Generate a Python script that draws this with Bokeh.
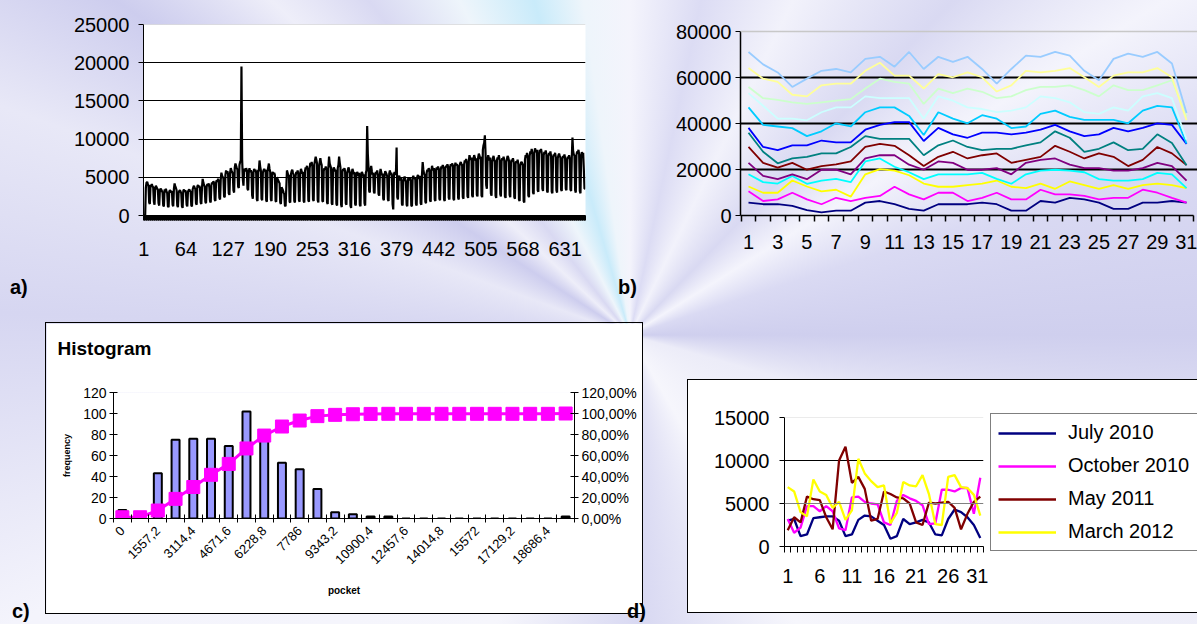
import math
from bokeh.plotting import figure
from bokeh.models import (FixedTicker, Span, LinearAxis, Range1d, Legend, LegendItem, Div, Spacer, Title)
from bokeh.layouts import row, column
from bokeh.embed import file_html
from bokeh.resources import INLINE

FONT = "Liberation Sans"

# ---------------- chart a) daily values ----------------
A_VALUES = [
    0, 0, 0,
    3600, 4300, 4400, 4100, 3900, 1700, 1500,
    4000, 3900, 4100, 3800, 3700, 1800, 1400,
    3600, 3900, 3700, 3500, 3400, 1600, 1300,
    3300, 3500, 3400, 3200, 3000, 1300, 1200,
    3400, 3200, 3500, 3100, 2900, 1200, 1100,
    3100, 3300, 3200, 3000, 3200, 1400, 1200,
    3500, 4200, 3800, 3600, 3300, 1300, 1100,
    3000, 3200, 3300, 3100, 2900, 1200, 1000,
    3200, 3400, 3100, 3300, 3000, 1400, 1200,
    3100, 3300, 3400, 3200, 3100, 1300, 1200,
    3400, 3700, 3900, 3600, 3500, 1600, 1400,
    3800, 4000, 3700, 3900, 3600, 1700, 1500,
    3700, 4800, 4300, 4000, 3800, 1800, 1600,
    3800, 4100, 3900, 4200, 3700, 1900, 1700,
    4000, 4300, 4100, 4500, 4200, 2100, 1900,
    4300, 4600, 4400, 4800, 4500, 2300, 2100,
    4700, 5600, 5200, 5000, 4900, 2500, 2400,
    5300, 5900, 5500, 5800, 5400, 2900, 2700,
    5600, 6200, 5900, 5700, 5500, 3300, 3000,
    6300, 6800, 6500, 6200, 6000, 3800, 3600,
    6600, 7000, 7200, 19500, 7400, 4800, 3900,
    6100, 6000, 5800, 6200, 5900, 3500, 3300,
    5800, 6200, 5700, 5900, 5600, 2600, 2200,
    5700, 6100, 5800, 6000, 5600, 2100, 1900,
    6000, 5800, 7200, 6400, 5900, 2200, 2000,
    5600, 5900, 6100, 5800, 6000, 2000, 1800,
    5800, 6300, 6800, 6100, 5700, 2100, 1900,
    5500, 5700, 5400, 5600, 5300, 1900, 1800,
    5000, 4800, 4600, 4400, 4200, 1700, 1500,
    3700, 3500, 3300, 3000, 2800, 1300, 1200,
    3500, 5900, 5600, 5200, 5300, 1800, 1700,
    5400, 5800, 6000, 5600, 5300, 1900, 1700,
    5200, 5700, 5500, 5900, 5400, 2000, 1800,
    5600, 6100, 5800, 5500, 5700, 1900, 1700,
    5800, 6300, 6100, 6500, 6000, 2000, 1800,
    6200, 6900, 6600, 7000, 6400, 2100, 1900,
    6700, 7200, 7700, 7300, 6800, 2000, 1700,
    6400, 7000, 7500, 6900, 6600, 1900, 1800,
    5800, 6200, 6000, 6400, 6100, 1700, 1500,
    6300, 7700, 6800, 6500, 6200, 1600, 1400,
    5900, 6300, 6100, 5800, 6000, 1500, 1300,
    6200, 6600, 7700, 6900, 6300, 1400, 1100,
    5700, 6100, 5900, 6200, 5800, 1600, 1400,
    5500, 5900, 6300, 6000, 5600, 1300, 1000,
    5600, 6100, 5800, 5400, 5700, 1500, 1300,
    5400, 5700, 5500, 5200, 5600, 1400, 1200,
    5300, 5700, 5500, 5100, 5400, 1600, 1300,
    5600, 5900, 11700, 8000, 6300, 3200, 3000,
    6000, 6500, 5800, 5400, 5600, 3100, 2900,
    5300, 5700, 5500, 5900, 5200, 2800, 2600,
    5400, 6100, 5700, 5300, 5500, 2200, 2000,
    5200, 5800, 5600, 5400, 5100, 2100, 1900,
    5500, 5900, 5300, 5600, 5200, 1500, 800,
    5400, 5700, 5300, 5600, 8900, 2400, 2100,
    5000, 5200, 4800, 4600, 4900, 1500, 1300,
    4500, 4800, 5100, 4700, 4400, 1400, 1200,
    4700, 5000, 4600, 4900, 4500, 1300, 1200,
    4900, 5200, 4800, 5000, 4700, 1500, 1300,
    5100, 5300, 5000, 4800, 5200, 1600, 1400,
    5400, 7000, 6000, 5500, 5300, 1800, 1600,
    5600, 6000, 5800, 6200, 5900, 2000, 1800,
    5800, 6500, 6100, 5900, 6200, 2100, 1900,
    5900, 6300, 6000, 6400, 6100, 2200, 2000,
    6000, 6400, 6200, 6600, 6300, 2100, 1900,
    6200, 6500, 6300, 6700, 6400, 2300, 2100,
    6300, 6700, 6500, 6800, 6600, 2200, 2000,
    6400, 6900, 6600, 6700, 6500, 2300, 2100,
    6500, 6800, 7000, 6700, 6600, 2400, 2200,
    6700, 7200, 7000, 7400, 6900, 2500, 2300,
    7100, 7900, 7500, 7300, 7600, 2600, 2400,
    7400, 7900, 7600, 7200, 7500, 2700, 2500,
    7600, 8100, 7800, 7400, 7700, 2600, 2400,
    8600, 9200, 9500, 10500, 8200, 4000, 3500,
    7300, 7900, 7500, 7200, 7600, 2900, 2600,
    7000, 7500, 7800, 7300, 7100, 2600, 2300,
    7200, 7600, 7400, 7900, 7300, 2800, 2500,
    7100, 7500, 7300, 7700, 7200, 2500, 2300,
    7000, 7400, 7800, 7600, 7200, 2700, 2400,
    6900, 7300, 7100, 7500, 7000, 2400, 2200,
    6800, 7100, 6900, 7300, 6700, 2100, 1900,
    6500, 6900, 7000, 6800, 6600, 1900, 1700,
    7300, 7900, 7600, 8200, 7700, 2600, 2400,
    7800, 8400, 8100, 8700, 8200, 3000, 2800,
    8100, 8800, 8500, 8300, 8600, 3300, 3100,
    8000, 8600, 8300, 8700, 8200, 3500, 3200,
    7900, 8300, 8100, 8500, 8000, 3200, 3000,
    7700, 8200, 7900, 8400, 7800, 3100, 2900,
    7600, 8000, 7800, 8200, 7700, 3300, 3000,
    7500, 7900, 8100, 7800, 7600, 3400, 3200,
    7400, 7800, 7600, 8000, 7500, 3500, 3300,
    7300, 7700, 7500, 7900, 7400, 3400, 3200,
    7600, 10200, 8400, 8000, 7800, 3300, 3000,
    7900, 8400, 8100, 8600, 8000, 3200, 2900,
    7800, 8300, 8000, 8200, 6000, 3500, 3500,
]
A_DAYS = list(range(1, len(A_VALUES) + 1))
A_TICK_LABELS = [1, 64, 127, 190, 253, 316, 379, 442, 505, 568, 631]
A_Y_TICKS = [0, 5000, 10000, 15000, 20000, 25000]

# ---------------- chart b) 13 monthly series ----------------
B_DAYS = list(range(1, 32))
B_NAVY = [5600, 4900, 4900, 4200, 2300, 1400, 2100, 2100, 5600, 6300, 4900, 2900, 2100, 4900, 4900, 4900,
          5600, 4900, 2100, 2100, 6300, 5600, 7700, 7000, 5600, 2900, 2900, 5600, 5600, 6300, 5600]
B_MAGENTA = [10500, 6300, 7000, 9900, 7000, 4900, 7700, 6300, 7700, 8500, 12500, 9200, 7000, 9900, 9900, 6300,
             7700, 9900, 7000, 7000, 11200, 9200, 9200, 8500, 7000, 7700, 7700, 11200, 9900, 7700, 5600]
B_YELLOW = [12600, 9900, 9900, 15200, 12600, 10500, 11200, 8200, 17900, 20200, 19500, 17500, 13900, 12500, 12500,
            13200, 13900, 15200, 12500, 11900, 13900, 11600, 14800, 13200, 11600, 13200, 11600, 13200, 13900,
            13200, 11900]
B_CYAN = [17900, 14500, 13900, 17200, 13800, 15200, 15900, 14500, 23500, 24800, 21200, 18800, 15800, 17900, 17900,
          17900, 18500, 15900, 13800, 17900, 19500, 19900, 19500, 18800, 15800, 15200, 15200, 15800, 18500,
          17900, 11900]
B_PURPLE = [22900, 17200, 15800, 17900, 15800, 19900, 19900, 17900, 24800, 26200, 26200, 22100, 19900, 23500,
            22900, 19900, 19900, 20600, 17900, 22900, 24200, 24800, 22100, 20600, 20600, 19500, 19500, 20600,
            22900, 21500, 15200]
B_DARKRED = [29800, 22900, 20800, 22900, 19900, 21500, 22200, 23500, 29800, 31100, 30300, 26200, 21500, 25500,
             27700, 24800, 26200, 27000, 22900, 24200, 25500, 30300, 27700, 24800, 27000, 25500, 21500, 24200,
             29800, 27000, 21900]
B_TEAL = [36000, 27700, 22700, 24800, 25500, 27000, 27000, 29800, 34500, 33300, 33300, 33300, 26200, 30500, 32600,
          29800, 28400, 29000, 29000, 30500, 31800, 36600, 33800, 27700, 29000, 31800, 28400, 29000, 35300,
          31500, 21900]
B_BLUE = [38100, 29800, 28400, 30500, 30500, 32600, 31800, 31800, 37300, 39400, 40600, 40600, 32400, 38100, 35300,
          33800, 36000, 36000, 35300, 36000, 37300, 39400, 36600, 34500, 35300, 38100, 36600, 38100, 40100,
          39400, 31100]
B_SKYBLUE = [47000, 39400, 38700, 38000, 34500, 36600, 40100, 38700, 44900, 47000, 47000, 43300, 35000, 44900,
             42100, 40100, 43600, 42100, 38000, 38700, 44200, 45600, 42900, 41600, 41600, 41600, 40100, 45600,
             47700, 47000, 31300]
B_LIGHTCYAN = [53200, 47700, 42100, 42100, 41400, 44900, 47000, 47000, 51800, 51000, 51000, 51000, 42100, 51800,
               49900, 47000, 46300, 44900, 45600, 47000, 51800, 51000, 49200, 44900, 44200, 47000, 45600, 51800,
               53200, 51000, 33000]
B_LIGHTGREEN = [55900, 51000, 50300, 49200, 48500, 49200, 49900, 50600, 55200, 59500, 58100, 57300, 48500, 55200,
                53200, 55200, 53800, 51000, 51800, 54500, 55900, 55900, 56600, 54500, 51800, 56600, 54500, 54500,
                56600, 58800, 43000]
B_LIGHTYELLOW = [64100, 59500, 58100, 52500, 51800, 56600, 57300, 57300, 62900, 66400, 60800, 60800, 55200, 61500,
                 60100, 62200, 60100, 53900, 56600, 62900, 62200, 62900, 64100, 60100, 55900, 60800, 62200, 62200,
                 64100, 60100, 41400]
B_LIGHTBLUE = [71100, 65700, 62200, 55900, 59500, 62900, 63700, 62200, 68100, 69000, 64700, 71100, 63700, 69000,
               66800, 69000, 63700, 57300, 63700, 69500, 69000, 71100, 69500, 62900, 58800, 68100, 70400, 69000,
               71100, 66100, 44600]
B_SERIES = [B_NAVY, B_MAGENTA, B_YELLOW, B_CYAN, B_PURPLE, B_DARKRED, B_TEAL, B_BLUE, B_SKYBLUE,
            B_LIGHTCYAN, B_LIGHTGREEN, B_LIGHTYELLOW, B_LIGHTBLUE]
B_COLORS = ["#000080", "#FF00FF", "#FFFF00", "#00FFFF", "#800080", "#800000", "#008080", "#0000FF",
            "#00CCFF", "#CCFFFF", "#CCFFCC", "#FFFF99", "#99CCFF"]
B_TICK_LABELS = list(range(1, 32, 2))
B_Y_TICKS = [0, 20000, 40000, 60000, 80000]

# ---------------- chart c) histogram ----------------
C_BINS = ["0", "778,6", "1557,2", "2335,8", "3114,4", "3893", "4671,6", "5450,2", "6228,8", "7007,4",
          "7786", "8564,6", "9343,2", "10121,8", "10900,4", "11679", "12457,6", "13236,2", "14014,8",
          "14793,4", "15572", "16350,6", "17129,2", "17907,8", "18686,4", "More"]
C_FREQ = [8, 0, 43, 75, 76, 76, 69, 102, 78, 53, 47, 28, 6, 4, 2, 2, 0, 0, 0, 0, 0, 0, 0, 0, 0, 2]
C_CUM_PCT = [1.2, 1.2, 7.6, 18.7, 30.0, 41.6, 52.0, 66.7, 79.0, 87.6, 93.3, 97.5, 98.7, 99.3, 99.6, 99.7,
             99.7, 99.7, 99.7, 99.7, 99.7, 99.7, 99.7, 99.7, 99.7, 100.0]
C_Y_TICKS = [0, 20, 40, 60, 80, 100, 120]
C_PCT_LABELS = ["0,00%", "20,00%", "40,00%", "60,00%", "80,00%", "100,00%", "120,00%"]

# ---------------- chart d) four months ----------------
D_DAYS = list(range(1, 32))
D_NAMES = ["July 2010", "October 2010", "May 2011", "March 2012"]
D_COLORS = ["#000080", "#FF00FF", "#800000", "#FFFF00"]
D_JUL10 = [3000, 3200, 1200, 1400, 3300, 3400, 3500, 3500, 3000, 1200, 1400, 3100, 3600, 3500, 3000, 2500,
           900, 1200, 3200, 2600, 2800, 3100, 2800, 1400, 1300, 3200, 4300, 4000, 3400, 2500, 1000]
D_OCT10 = [3200, 1600, 2200, 4700, 4700, 4100, 4700, 4100, 2100, 1900, 5700, 5800, 5200, 5000, 4900, 2800,
           2500, 5300, 6000, 5600, 5300, 4800, 2600, 2700, 6600, 6600, 6400, 6800, 6800, 3800, 8000]
D_MAY11 = [1900, 3400, 2800, 5800, 5500, 5400, 3400, 2000, 10000, 11600, 7400, 8100, 6700, 3000, 3200, 6400,
           6100, 5700, 5600, 5000, 2800, 2500, 5100, 5000, 5100, 5200, 4500, 2000, 3800, 5200, 5800]
D_MAR12 = [6900, 6400, 4000, 3500, 7800, 6400, 6000, 4500, 5200, 3100, 4200, 10200, 8500, 7600, 6900, 7100,
           2700, 3900, 7500, 7100, 7000, 8300, 6100, 2600, 2500, 8100, 8300, 6900, 6800, 6000, 3600]
D_SERIES = [D_JUL10, D_OCT10, D_MAY11, D_MAR12]
D_TICK_LABELS = [1, 6, 11, 16, 21, 26, 31]
D_Y_TICKS = [0, 5000, 10000, 15000]


def base_axes(p, size):
    for ax in (p.xaxis[0], p.yaxis[0]):
        ax.major_label_text_font = FONT
        ax.major_label_text_font_size = size
        ax.major_label_text_color = "black"
        ax.axis_line_color = "black"
        ax.major_tick_line_color = "black"
        ax.minor_tick_line_color = "black"
        ax.axis_label_text_font = FONT
        ax.axis_label_text_color = "black"


# layout geometry (pixels)
TOP_H = 270          # height of the two upper figures
FR_TOP = 24          # frame top of upper figures
FR_BOT = 215         # frame bottom of upper figures
TICK_FONT = "20px"

# ================= figure a =================
pa = figure(width=600, height=TOP_H, output_backend="svg", toolbar_location=None, title=None,
            x_range=Range1d(0.5, len(A_VALUES) + 0.5), y_range=Range1d(0, 25000),
            min_border_left=143, min_border_right=15, min_border_top=FR_TOP, min_border_bottom=TOP_H - FR_BOT)
pa.background_fill_color = "white"
pa.border_fill_color = None
pa.outline_line_color = None
pa.line(A_DAYS, A_VALUES, line_color="black", line_width=2.2)
pa.xgrid.visible = False
pa.ygrid.ticker = FixedTicker(ticks=A_Y_TICKS[1:-1])
pa.ygrid.grid_line_color = "black"
pa.ygrid.grid_line_width = 1
pa.add_layout(Span(location=A_Y_TICKS[-1], dimension="width", line_color="#c8c8c8", line_width=1))
base_axes(pa, TICK_FONT)
pa.yaxis.ticker = FixedTicker(ticks=A_Y_TICKS)
pa.yaxis.major_tick_out = 5
pa.yaxis.major_tick_in = 0
pa.yaxis.major_label_standoff = 9
pa.xaxis.ticker = FixedTicker(ticks=A_TICK_LABELS,
                              minor_ticks=[d - 0.5 for d in A_DAYS] + [len(A_DAYS) + 0.5])
pa.xaxis.major_tick_out = 0
pa.xaxis.major_tick_in = 0
pa.xaxis.minor_tick_out = 5
pa.xaxis.minor_tick_in = 0
pa.xaxis.major_label_standoff = 21

# ================= figure b =================
b_top_value = B_Y_TICKS[-1] * (FR_BOT - FR_TOP) / (FR_BOT - 31)
pb = figure(width=597, height=TOP_H, output_backend="svg", toolbar_location=None, title=None,
            x_range=Range1d(0.452, 31.75), y_range=Range1d(0, b_top_value),
            min_border_left=140, min_border_right=0, min_border_top=FR_TOP, min_border_bottom=TOP_H - FR_BOT)
pb.background_fill_color = None
pb.border_fill_color = None
pb.outline_line_color = None
for vals, col in zip(B_SERIES, B_COLORS):
    pb.line(B_DAYS, vals, line_color=col, line_width=1.8)
pb.xgrid.visible = False
pb.ygrid.ticker = FixedTicker(ticks=B_Y_TICKS[1:-1])
pb.ygrid.grid_line_color = "black"
pb.ygrid.grid_line_width = 2
pb.add_layout(Span(location=B_Y_TICKS[-1], dimension="width", line_color="#c8c8c8", line_width=1.5))
base_axes(pb, TICK_FONT)
pb.yaxis.ticker = FixedTicker(ticks=B_Y_TICKS)
pb.yaxis.bounds = (0, B_Y_TICKS[-1])
pb.yaxis.major_tick_out = 5
pb.yaxis.major_tick_in = 0
pb.yaxis.major_label_standoff = 4
pb.yaxis.axis_line_width = 1.5
pb.xaxis.axis_line_width = 1.5
pb.xaxis.bounds = (0.452, 31.5)
pb.xaxis.ticker = FixedTicker(ticks=B_TICK_LABELS, minor_ticks=[d - 0.5 for d in B_DAYS] + [31.5])
pb.xaxis.major_tick_out = 0
pb.xaxis.major_tick_in = 0
pb.xaxis.minor_tick_out = 6
pb.xaxis.minor_tick_in = 0
pb.xaxis.minor_tick_line_width = 1.5
pb.xaxis.major_label_standoff = 13

# ================= figure c =================
pc = figure(width=596, height=290, output_backend="svg", toolbar_location=None, title=None,
            x_range=Range1d(-0.5, len(C_BINS) - 0.5), y_range=Range1d(0, 120),
            min_border_left=67, min_border_right=68, min_border_top=69, min_border_bottom=95)
# blank title (nearest the frame) keeps the real title higher up, as in the original
pc.add_layout(Title(text=" ", text_font=FONT, text_font_size="19px", standoff=10), "above")
pc.add_layout(Title(text="Histogram", align="left", offset=-56, text_font=FONT, text_font_size="19px",
                    text_font_style="bold", text_color="black", standoff=2), "above")
pc.background_fill_color = "white"
pc.border_fill_color = "white"
pc.outline_line_color = None
pc.styles = {"outline": "1.5px solid #000"}
pc.extra_y_ranges = {"pct": Range1d(0, 120)}
cats = list(range(len(C_BINS)))
pc.vbar(x=cats, top=C_FREQ, width=0.45, fill_color="#9999FF", line_color="black", line_width=2)
pc.line(cats, C_CUM_PCT, y_range_name="pct", line_color="#FF00FF", line_width=3)
pc.scatter(cats, C_CUM_PCT, y_range_name="pct", marker="square", size=13,
           fill_color="#FF00FF", line_color="#FF00FF")
pc.xgrid.visible = False
pc.ygrid.visible = False
base_axes(pc, "14px")
pc.yaxis.ticker = FixedTicker(ticks=C_Y_TICKS)
pc.yaxis.major_tick_in = 4
pc.yaxis.major_tick_out = 4
pc.yaxis.major_label_standoff = 3
pc.yaxis.axis_label = "frequency"
pc.yaxis.axis_label_text_font_size = "9px"
pc.yaxis.axis_label_text_font_style = "bold"
pc.yaxis.axis_label_standoff = 8
right = LinearAxis(y_range_name="pct", ticker=FixedTicker(ticks=C_Y_TICKS),
                   major_label_overrides={t: s for t, s in zip(C_Y_TICKS, C_PCT_LABELS)})
right.major_label_text_font = FONT
right.major_label_text_font_size = "14px"
right.major_label_text_color = "black"
right.axis_line_color = "black"
right.major_tick_line_color = "black"
right.major_tick_in = 4
right.major_tick_out = 4
right.major_label_standoff = 3
pc.add_layout(right, "right")
pc.xaxis.ticker = FixedTicker(ticks=cats[0:-1:2], minor_ticks=[c - 0.5 for c in cats] + [cats[-1] + 0.5])
pc.xaxis.major_label_overrides = {c: C_BINS[c] for c in cats[0:-1:2]}
pc.xaxis.major_label_orientation = math.pi / 4
pc.xaxis.major_label_text_font_size = "13px"
pc.xaxis.major_tick_in = 0
pc.xaxis.major_tick_out = 0
pc.xaxis.minor_tick_in = 4
pc.xaxis.minor_tick_out = 4
pc.xaxis.major_label_standoff = 6
pc.xaxis.axis_label = "pocket"
pc.xaxis.axis_label_text_font_size = "10px"
pc.xaxis.axis_label_text_font_style = "bold"
pc.xaxis.axis_label_standoff = 14

# ================= figure d (chart part) =================
pd_ = figure(width=300, height=232, output_backend="svg", toolbar_location=None, title=None,
             x_range=Range1d(0.5, 31.5), y_range=Range1d(0, 15000),
             min_border_left=96, min_border_right=5, min_border_top=37, min_border_bottom=66)
pd_.background_fill_color = "white"
pd_.border_fill_color = "white"
pd_.outline_line_color = None
for vals, col in zip(D_SERIES, D_COLORS):
    pd_.line(D_DAYS, vals, line_color=col, line_width=2.3)
pd_.xgrid.visible = False
pd_.ygrid.ticker = FixedTicker(ticks=[D_Y_TICKS[2]])
pd_.ygrid.grid_line_color = "black"
pd_.ygrid.grid_line_width = 1
pd_.add_layout(Span(location=D_Y_TICKS[1], dimension="width", line_color="#808080", line_width=1.2))
pd_.add_layout(Span(location=D_Y_TICKS[3], dimension="width", line_color="#d8d8d8", line_width=1))
base_axes(pd_, TICK_FONT)
pd_.yaxis.ticker = FixedTicker(ticks=D_Y_TICKS)
pd_.yaxis.major_tick_out = 5
pd_.yaxis.major_tick_in = 0
pd_.yaxis.major_label_standoff = 10
pd_.xaxis.ticker = FixedTicker(ticks=D_TICK_LABELS, minor_ticks=[d - 0.5 for d in D_DAYS] + [31.5])
pd_.xaxis.major_tick_out = 0
pd_.xaxis.major_tick_in = 0
pd_.xaxis.minor_tick_out = 6
pd_.xaxis.minor_tick_in = 0
pd_.xaxis.major_label_standoff = 16

# ================= figure d (legend part) =================
pl = figure(width=209, height=150, output_backend="svg", toolbar_location=None, title=None,
            x_range=Range1d(100, 101), y_range=Range1d(0, 1),
            x_axis_location=None, y_axis_location=None, min_border=0,
            min_border_left=0, min_border_right=0, min_border_top=0, min_border_bottom=0)
pl.grid.visible = False
pl.outline_line_color = None
pl.background_fill_color = None
pl.border_fill_color = None
items = []
for name, vals, col in zip(D_NAMES, D_SERIES, D_COLORS):
    r = pl.line(D_DAYS, vals, line_color=col, line_width=2.3)   # lies outside the view: legend swatch only
    items.append(LegendItem(label=name, renderers=[r]))
legend = Legend(items=items, location="top_left", border_line_color="black", border_line_width=1.2,
                background_fill_color="white", background_fill_alpha=1.0,
                label_text_font=FONT, label_text_font_size="20px", label_text_color="black",
                glyph_width=58, glyph_height=20, label_height=20, label_width=135, spacing=10,
                padding=7, label_standoff=12, margin=2)
pl.add_layout(legend, "center")

d_box = row(pd_, column(Spacer(width=209, height=31), pl, Spacer(width=209, height=51)),
            styles={"outline": "1.5px solid #000", "background": "white"})

# ================= panel labels & layout =================
LAB = "font-family:'Liberation Sans';font-weight:bold;font-size:20px;color:black;position:relative;"
div_a = Div(text=f'<div style="{LAB}left:10px;top:3px;">a)</div>', width=600, height=30, margin=0)
div_b = Div(text=f'<div style="{LAB}left:18px;top:3px;">b)</div>', width=597, height=30, margin=0)
div_c = Div(text=f'<div style="{LAB}left:12px;top:297px;">c)</div>', width=46, height=324, margin=0)
div_d = Div(text=f'<div style="{LAB}left:-15px;top:297px;">d)</div>', width=46, height=324, margin=0)

top = row(column(pa, div_a), column(pb, div_b))
bottom = row(div_c,
             column(Spacer(width=596, height=23), pc, Spacer(width=596, height=11)),
             div_d,
             column(Spacer(width=509, height=80), d_box, Spacer(width=509, height=12)))

BG = ("conic-gradient(from 0deg at 630px 335px, "
      "#f4f4fc 0deg, #dcdcf4 12deg, #f2f2fb 26deg, #d9d9f2 44deg, #f4f4fc 58deg, #dadaf3 72deg, "
      "#cfcfee 90deg, #ececf8 106deg, #f6f6fc 150deg, #d8d8f2 178deg, #f6f6fc 205deg, #f4f4fc 245deg, "
      "#d6d6f1 272deg, #e8e8f7 290deg, #cdcdee 303deg, #eeeef9 313deg, #d9d9f2 322deg, #eef5fb 333deg, "
      "#c9ebfa 344deg, #eef5fb 352deg, #f4f4fc 360deg)")
layout = column(top, bottom, styles={"background": BG})

open("out.html", "w").write(file_html(layout, INLINE))
